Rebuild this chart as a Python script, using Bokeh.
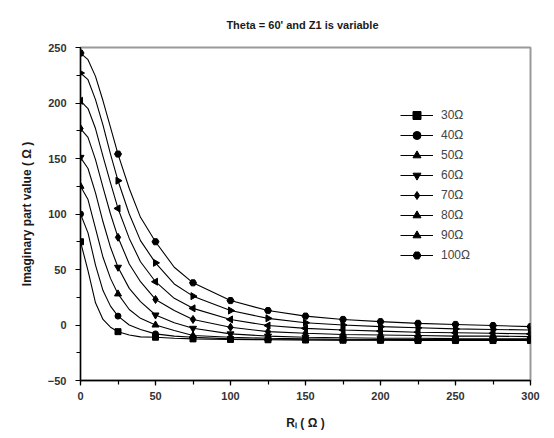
import math
from bokeh.plotting import figure
from bokeh.models import ColumnDataSource, SingleIntervalTicker, Legend, LegendItem, Title
from bokeh.embed import file_html
from bokeh.resources import INLINE

# ---- data ----
x_vals = [0, 5, 10, 15, 20, 25, 32.5, 40, 50, 62.5, 75, 100, 125, 150, 175, 200, 225, 250, 275, 300]
z30 = [75, 49, 20, 5, -2, -6, -9, -10.7, -11, -12, -12.5, -13, -13.3, -13.5, -13.7, -13.8, -14, -14, -14, -14]
z40 = [100, 83, 54, 31, 17, 8, 0, -4, -8, -10, -11, -12.5, -13, -13.3, -13.5, -13.5, -13.5, -13.5, -13.5, -13.5]
z50 = [125, 113, 87, 61, 42, 28, 14, 6, 0, -5, -9.5, -11, -12, -12.5, -12.8, -13, -13, -13, -13, -13]
z60 = [151, 141, 119, 93, 70, 52, 33, 21, 9, 2, -3, -8, -10, -11, -11.5, -12, -12, -12.3, -12.5, -12.5]
z70 = [177, 169, 149, 124, 100, 79, 55, 39, 23, 13, 5, -2, -6, -7.5, -8.5, -9, -9.5, -10, -10, -10.5]
z80 = [202, 195, 177, 152, 128, 105, 78, 57, 39, 24, 15, 5, -0.5, -3, -4.5, -5.5, -6.5, -7, -7.5, -8]
z90 = [227, 221, 203, 180, 154, 130, 100, 76, 56, 37, 26, 13, 6, 2, 0, -1.5, -2.5, -3.5, -4, -4.5]
z100 = [245, 239, 224, 202, 178, 154, 123, 97, 75, 52, 38, 22, 13, 8, 5, 3, 1.5, 0.5, -0.5, -1.5]
series_labels = ["30Ω", "40Ω", "50Ω", "60Ω", "70Ω", "80Ω", "90Ω", "100Ω"]
series_values = [z30, z40, z50, z60, z70, z80, z90, z100]
marker_step = 25

markers = [("square", 0), ("circle", 0), ("triangle", 0), ("inverted_triangle", 0),
           ("diamond", 0), ("triangle", math.pi / 2), ("triangle", -math.pi / 2), ("hex", 0)]
msizes = [6, 6, 7, 7, 8, 7, 7, 7]

FONT = "Liberation Sans"
TXT = "#1a1a1a"

p = figure(width=545, height=435, output_backend="svg", toolbar_location=None,
           x_range=(0, 300), y_range=(-50, 250),
           min_border_left=80, min_border_right=15, min_border_top=47, min_border_bottom=55)
p.background_fill_color = "white"
p.border_fill_color = "white"
p.outline_line_color = "#9a9a9a"
p.outline_line_width = 2
p.xgrid.visible = False
p.ygrid.visible = False

p.title = Title(text="Theta = 60'   and Z1 is variable", align="center", text_font=FONT,
                text_font_size="11px", text_font_style="bold", text_color=TXT, standoff=33)

for ax in (p.xaxis[0], p.yaxis[0]):
    ax.ticker = SingleIntervalTicker(interval=50, num_minor_ticks=2)
    ax.axis_line_color = "black"
    ax.axis_line_width = 1.3
    ax.major_tick_in = 0
    ax.major_tick_out = 5
    ax.minor_tick_in = 0
    ax.minor_tick_out = 4
    ax.major_tick_line_color = "black"
    ax.minor_tick_line_color = "black"
    ax.major_tick_line_width = 1.2
    ax.minor_tick_line_width = 1.2
    ax.major_label_text_font = FONT
    ax.major_label_text_font_size = "11px"
    ax.major_label_text_font_style = "bold"
    ax.major_label_text_color = "#333333"
    ax.axis_label_text_font = FONT
    ax.axis_label_text_font_size = "12px"
    ax.axis_label_text_font_style = "bold"
    ax.axis_label_text_color = TXT

p.xaxis.axis_label = "Rₗ ( Ω )"
p.yaxis.axis_label = "Imaginary part value ( Ω )"
p.yaxis.major_label_standoff = 9
p.xaxis.major_label_standoff = 6
p.yaxis.axis_label_standoff = 11
p.xaxis.axis_label_standoff = 13

items = []
for lab, vals, (mk, ang), ms in zip(series_labels, series_values, markers, msizes):
    src = ColumnDataSource(dict(x=x_vals, y=vals))
    mx = [x for x in x_vals if x % marker_step == 0]
    my = [y for x, y in zip(x_vals, vals) if x % marker_step == 0]
    msrc = ColumnDataSource(dict(x=mx, y=my, a=[ang] * len(mx)))
    r1 = p.line("x", "y", source=src, line_color="black", line_width=1.1)
    r2 = p.scatter("x", "y", source=msrc, marker=mk, angle="a", size=ms,
                   fill_color="black", line_color="black")
    items.append(LegendItem(label=lab, renderers=[r1, r2], index=0))

legend = Legend(items=items, location=(320, 115), orientation="vertical",
                glyph_width=33, glyph_height=20, label_height=20, spacing=0,
                label_standoff=8, padding=0, margin=0,
                border_line_color=None, background_fill_alpha=0,
                label_text_font=FONT, label_text_font_size="12px", label_text_color="#444444")
p.add_layout(legend, "center")

open("out.html", "w").write(file_html(p, INLINE))
